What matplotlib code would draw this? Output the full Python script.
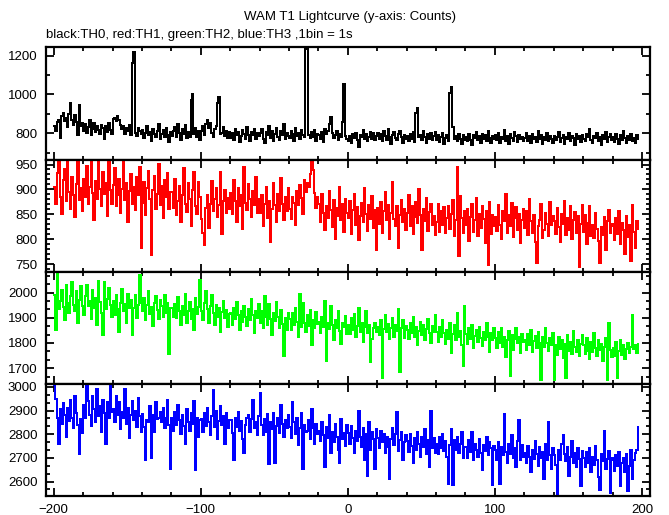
import matplotlib
matplotlib.use("Agg")
import matplotlib.pyplot as plt
from matplotlib.ticker import MultipleLocator, AutoMinorLocator
import numpy as np

plt.rcParams['font.family'] = ['Liberation Sans', 'DejaVu Sans']
plt.rcParams['font.size'] = 9.5

# counts per 1 s bin, starting at t = -200 s
th0 = [
    835, 812, 858, 870, 776, 889, 905, 862, 880, 832, 901, 957, 870, 845, 893, 860, 790, 943, 840, 853,
    812, 846, 801, 833, 868, 790, 824, 851, 807, 839, 815, 797, 842, 828, 771, 836, 809, 854, 818, 796,
    874, 881, 862, 890, 868, 845, 820, 838, 795, 826, 812, 843, 790, 1160, 1218, 802, 786, 829, 810, 794,
    818, 776, 802, 835, 789, 808, 761, 823, 797, 780, 812, 846, 770, 798, 815, 783, 829, 792, 757, 805,
    788, 812, 834, 779, 850, 801, 766, 820, 795, 842, 774, 808, 783, 972, 1003, 797, 826, 780, 810, 763,
    812, 836, 790, 847, 868, 825, 851, 803, 779, 822, 840, 955, 985, 796, 801, 830, 788, 812, 775, 806,
    778, 801, 765, 823, 792, 809, 756, 784, 817, 798, 771, 830, 789, 762, 805, 793, 824, 770, 801, 786,
    799, 821, 773, 748, 806, 790, 835, 776, 812, 759, 797, 828, 783, 764, 810, 792, 850, 771, 803, 787,
    776, 812, 795, 760, 829, 788, 803, 770, 815, 792, 783, 1232, 1240, 791, 774, 806, 782, 818, 762, 797,
    789, 771, 806, 754, 823, 798, 812, 847, 882, 801, 776, 790, 813, 768, 795, 782, 858, 1052, 786, 772,
    762, 785, 751, 798, 774, 803, 767, 729, 790, 781, 815, 770, 796, 758, 783, 806, 772, 799, 765, 788,
    803, 771, 795, 759, 812, 786, 768, 821, 779, 745, 792, 808, 776, 763, 797, 814, 781, 752, 789, 770,
    784, 762, 797, 771, 806, 753, 905, 931, 779, 791, 766, 810, 783, 748, 795, 772, 801, 764, 787, 809,
    768, 793, 757, 781, 803, 744, 776, 790, 762, 1009, 1040, 830, 771, 786, 759, 797, 773, 745, 790, 765,
    782, 759, 795, 768, 741, 790, 777, 806, 763, 785, 752, 798, 771, 789, 760, 812, 774, 748, 786, 769,
    790, 765, 804, 752, 781, 773, 815, 760, 788, 746, 797, 776, 762, 809, 784, 755, 793, 771, 780, 758,
    776, 802, 761, 787, 749, 795, 770, 783, 756, 812, 773, 790, 744, 781, 766, 799, 758, 785, 772, 751,
    788, 763, 779, 805, 757, 774, 792, 745, 783, 769, 801, 760, 786, 775, 738, 797, 770, 784, 756, 790,
    773, 758, 795, 780, 821, 766, 751, 787, 774, 799, 762, 783, 742, 790, 771, 808, 755, 779, 794, 763,
    781, 756, 798, 770, 747, 789, 765, 811, 774, 752, 786, 768, 795, 760, 778, 749, 791, 772,
]

th1 = [
    905, 870, 932, 960, 884, 851, 918, 940, 876, 972, 895, 860, 925, 888, 845, 910, 968, 879, 902, 856,
    921, 884, 948, 870, 905, 963, 892, 838, 917, 880, 955, 901, 866, 934, 890, 912, 847, 975, 898, 871,
    908, 942, 866, 889, 920, 853, 901, 967, 878, 912, 835, 896, 930, 871, 905, 858, 924, 889, 945, 782,
    872, 915, 848, 903, 936, 880, 768, 898, 926, 861, 890, 951, 869, 907, 843, 918, 884, 932, 860, 895,
    895, 862, 921, 848, 877, 906, 834, 889, 943, 870, 855, 912, 881, 826, 898, 934, 867, 850, 915, 884,
    840, 812, 788, 862, 888, 823, 871, 917, 856, 880, 902, 845, 869, 934, 811, 876, 898, 852, 883, 861,
    893, 851, 918, 876, 835, 902, 866, 889, 820, 945, 873, 858, 910, 881, 844, 897, 869, 925, 853, 880,
    852, 889, 826, 871, 905, 843, 877, 795, 860, 912, 868, 834, 890, 856, 923, 871, 839, 884, 857, 902,
    861, 840, 885, 873, 829, 896, 868, 908, 882, 850, 918, 894, 912, 905, 930, 955, 938, 893, 862, 884,
    871, 835, 890, 852, 818, 866, 843, 897, 858, 824, 879, 801, 862, 846, 905, 838, 870, 815, 881, 853,
    842, 876, 810, 858, 891, 829, 864, 798, 847, 872, 835, 903, 851, 816, 869, 840, 887, 822, 858, 779,
    863, 830, 875, 812, 856, 894, 838, 869, 801, 852, 915, 841, 827, 866, 783, 849, 878, 835, 860, 818,
    852, 889, 826, 867, 811, 845, 874, 832, 900, 848, 779, 861, 836, 883, 817, 855, 870, 829, 846, 808,
    835, 871, 814, 856, 828, 865, 812, 843, 866, 820, 851, 879, 806, 838, 945, 766, 887, 843, 812, 857,
    828, 861, 797, 845, 870, 815, 839, 882, 806, 851, 823, 867, 840, 792, 856, 748, 875, 811, 848, 826,
    845, 816, 869, 828, 801, 856, 837, 890, 812, 848, 826, 873, 805, 842, 864, 819, 851, 793, 838, 860,
    822, 857, 809, 881, 836, 812, 849, 795, 752, 826, 838, 871, 803, 818, 853, 831, 806, 875, 829, 847,
    836, 811, 862, 824, 795, 851, 830, 876, 809, 843, 818, 866, 800, 839, 855, 813, 847, 745, 831, 869,
    815, 848, 791, 833, 867, 806, 829, 803, 853, 820, 797, 752, 825, 809, 844, 778, 836, 858, 812, 830,
    826, 799, 842, 811, 857, 790, 833, 818, 770, 846, 805, 829, 756, 868, 815, 782, 836, 821,
]

th2 = [
    1990, 1850, 2095, 1935, 1968, 2010, 1942, 1890, 2030, 1960, 1918, 1985, 2040, 1952, 1925, 2005, 1880, 1970, 2025, 1945,
    1910, 1985, 2032, 1948, 1965, 1895, 2010, 1940, 1978, 1870, 2045, 1962, 1920, 1830, 2040, 1935, 1975, 2018, 1950, 1905,
    1968, 1912, 1990, 1935, 1845, 1960, 2015, 1928, 1955, 1880, 1995, 1940, 1972, 1830, 1938, 1990, 1900, 1950, 2070, 1960,
    1925, 1978, 1890, 1950, 2005, 1915, 1942, 1868, 1960, 1985, 1930, 1895, 1972, 1948, 1905, 1990, 1920, 1958, 1755, 1940,
    1938, 1905, 1955, 1900, 1982, 1925, 1870, 1945, 1910, 1995, 1880, 1928, 1962, 1895, 1935, 1850, 1978, 1915, 1942, 2050,
    1925, 1890, 1960, 2005, 1935, 1880, 1945, 1990, 1918, 1870, 1952, 1905, 1938, 1845, 1922, 1968, 1898, 1930, 1862, 1915,
    1918, 1872, 1940, 1895, 1962, 1910, 1850, 1928, 1885, 1948, 1902, 1868, 1935, 1890, 1975, 1912, 1840, 1925, 1898, 1955,
    1880, 1925, 1858, 1985, 1902, 1870, 1955, 1895, 1832, 1918, 1888, 1962, 1905, 1860, 1930, 1875, 1750, 1898, 1852, 1920,
    1895, 1852, 1918, 1870, 1938, 1885, 1825, 1995, 1862, 1960, 1880, 1845, 1912, 1868, 1930, 1790, 1890, 1858, 1922, 1875,
    1885, 1840, 1902, 1865, 1968, 1730, 1878, 1855, 1945, 1872, 1810, 1890, 1860, 1925, 1848, 1795, 1880, 1862, 1908, 1835,
    1872, 1835, 1898, 1850, 1915, 1822, 1868, 1940, 1845, 1880, 1805, 1862, 1925, 1838, 1870, 1725, 1815, 1858, 1880, 1842,
    1865, 1830, 1892, 1660, 1855, 1910, 1842, 1875, 1815, 1860, 1898, 1825, 1870, 1848, 1935, 1685, 1858, 1890, 1820, 1866,
    1852, 1815, 1878, 1840, 1905, 1825, 1862, 1790, 1848, 1885, 1830, 1870, 1812, 1855, 1895, 1838, 1800, 1868, 1845, 1910,
    1842, 1805, 1865, 1822, 1890, 1838, 1795, 1850, 1815, 1880, 1760, 1835, 1870, 1812, 1918, 1825, 1848, 1790, 1710, 1945,
    1835, 1795, 1858, 1815, 1872, 1780, 1828, 1850, 1802, 1865, 1820, 1788, 1845, 1810, 1878, 1825, 1765, 1840, 1812, 1858,
    1818, 1780, 1842, 1800, 1860, 1785, 1822, 1745, 1810, 1848, 1670, 1830, 1772, 1815, 1858, 1798, 1825, 1760, 1835, 1805,
    1810, 1772, 1835, 1790, 1852, 1765, 1808, 1828, 1780, 1845, 1798, 1655, 1822, 1785, 1860, 1800, 1770, 1818, 1792, 1840,
    1655, 1790, 1752, 1825, 1778, 1810, 1740, 1795, 1660, 1832, 1770, 1805, 1758, 1848, 1785, 1765, 1812, 1748, 1795, 1830,
    1790, 1755, 1818, 1770, 1735, 1802, 1765, 1840, 1780, 1748, 1812, 1772, 1795, 1728, 1785, 1820, 1655, 1880, 1772, 1745,
    1780, 1748, 1805, 1660, 1770, 1812, 1752, 1790, 1738, 1775, 1800, 1760, 1785, 1912, 1778, 1790, 1760, 1795,
]

th3 = [
    3010, 2950, 2870, 2760, 2905, 2845, 2930, 2880, 2790, 2910, 2855, 2945, 2870, 2825, 2960, 2890, 2840, 2715, 2865, 2805,
    2925, 2870, 3015, 2940, 2880, 2835, 2960, 2905, 2850, 2990, 2875, 2920, 2810, 2945, 2890, 2760, 2935, 2870, 3010, 2895,
    2905, 2850, 2960, 2880, 2935, 2820, 2895, 2870, 2990, 2845, 2910, 2785, 2880, 2940, 2860, 2900, 2830, 2955, 2875, 2810,
    2885, 2830, 2690, 2860, 2850, 2920, 2700, 2880, 2810, 2935, 2865, 2870, 2895, 2850, 2910, 2825, 2870, 2945, 2840, 2655,
    2870, 2815, 2895, 2840, 2925, 2860, 2800, 2880, 2835, 2760, 2905, 2850, 2815, 2890, 2845, 2940, 2650, 2870, 2790, 2860,
    2865, 2810, 2890, 2835, 2910, 2850, 2795, 2875, 2985, 2830, 2900, 2780, 2855, 2920, 2840, 2875, 2760, 2890, 2825, 2860,
    2860, 2805, 2690, 2870, 2830, 2895, 2815, 2855, 2780, 2720, 2840, 2870, 2880, 2810, 2865, 2945, 2825, 2850, 2795, 2875,
    2975, 2840, 2795, 2865, 2810, 2885, 2675, 2850, 2820, 2890, 2680, 2835, 2870, 2805, 2925, 2845, 2790, 2860, 2825, 2880,
    2830, 2785, 2935, 2850, 2800, 2870, 2755, 2825, 2890, 2655, 2840, 2810, 2815, 2860, 2780, 2905, 2825, 2760, 2845, 2800,
    2815, 2770, 2850, 2795, 2660, 2830, 2785, 2880, 2720, 2810, 2765, 2845, 2790, 2735, 2680, 2865, 2780, 2805, 2750, 2840,
    2805, 2760, 2835, 2785, 2720, 2815, 2770, 2900, 2790, 2745, 2825, 2690, 2800, 2625, 2850, 2735, 2810, 2780, 2655, 2820,
    2785, 2740, 2815, 2765, 2800, 2720, 2790, 2745, 2610, 2780, 2825, 2755, 2800, 2895, 2730, 2775, 2810, 2690, 2765, 2795,
    2770, 2725, 2800, 2750, 2680, 2785, 2735, 2810, 2760, 2705, 2790, 2745, 2820, 2715, 2775, 2660, 2900, 2740, 2785, 2720,
    2760, 2715, 2790, 2740, 2800, 2730, 2770, 2705, 2590, 2755, 2820, 2585, 2775, 2735, 2790, 2720, 2760, 2810, 2700, 2745,
    2745, 2700, 2775, 2725, 2810, 2690, 2760, 2735, 2705, 2780, 2720, 2650, 2755, 2730, 2790, 2710, 2765, 2740, 2585, 2750,
    2735, 2690, 2765, 2590, 2745, 2710, 2885, 2725, 2680, 2760, 2715, 2795, 2700, 2740, 2660, 2770, 2860, 2690, 2755, 2705,
    2720, 2680, 2750, 2705, 2640, 2735, 2695, 2770, 2715, 2665, 2745, 2700, 2725, 2610, 2760, 2690, 2850, 2710, 2655, 2740,
    2710, 2670, 2545, 2735, 2690, 2760, 2795, 2715, 2685, 2745, 2625, 2705, 2770, 2680, 2720, 2660, 2740, 2695, 2580, 2730,
    2700, 2660, 2725, 2680, 2740, 2640, 2705, 2670, 2750, 2690, 2620, 2565, 2715, 2685, 2815, 2655, 2695, 2730, 2550, 2700,
    2690, 2645, 2710, 2665, 2725, 2580, 2680, 2700, 2640, 2715, 2560, 2665, 2735, 2610, 2690, 2720, 2735, 2830,
]

t_start = -200
colors = ['black', '#ff0000', '#00ff00', '#0000ff']
ylims = [(665, 1242), (735, 960), (1638, 2083), (2539, 3013)]
ymajor = [200, 50, 100, 100]
yminor = [2, 5, 3, 3]

fig = plt.figure(figsize=(6.69, 5.15), dpi=100)
gs = fig.add_gridspec(4, 1, left=0.0683, right=0.9716, top=0.908, bottom=0.037, hspace=0)

axes = []
for i, vals in enumerate([th0, th1, th2, th3]):
    ax = fig.add_subplot(gs[i], sharex=axes[0] if axes else None)
    t = t_start + np.arange(len(vals))
    ax.step(t, vals, where='post', color=colors[i], lw=1.1, antialiased=False)
    ax.set_ylim(*ylims[i])
    ax.yaxis.set_major_locator(MultipleLocator(ymajor[i]))
    ax.yaxis.set_minor_locator(AutoMinorLocator(yminor[i]))
    ax.xaxis.set_major_locator(MultipleLocator(100))
    ax.xaxis.set_minor_locator(MultipleLocator(20))
    ax.tick_params(which='both', direction='in', top=True, right=True, width=1.3)
    ax.tick_params(which='major', length=6, pad=6)
    ax.tick_params(which='minor', length=3)
    for s in ax.spines.values():
        s.set_linewidth(1.6)
    if i < 3:
        ax.tick_params(labelbottom=False)
    axes.append(ax)

axes[0].set_xlim(-205.5, 205.5)

fig.text(0.523, 0.967, 'WAM T1 Lightcurve (y-axis: Counts)', ha='center', va='center')
fig.text(0.069, 0.932, 'black:TH0, red:TH1, green:TH2, blue:TH3 ,1bin = 1s', ha='left', va='center')

fig.savefig('out.png', dpi=100)
